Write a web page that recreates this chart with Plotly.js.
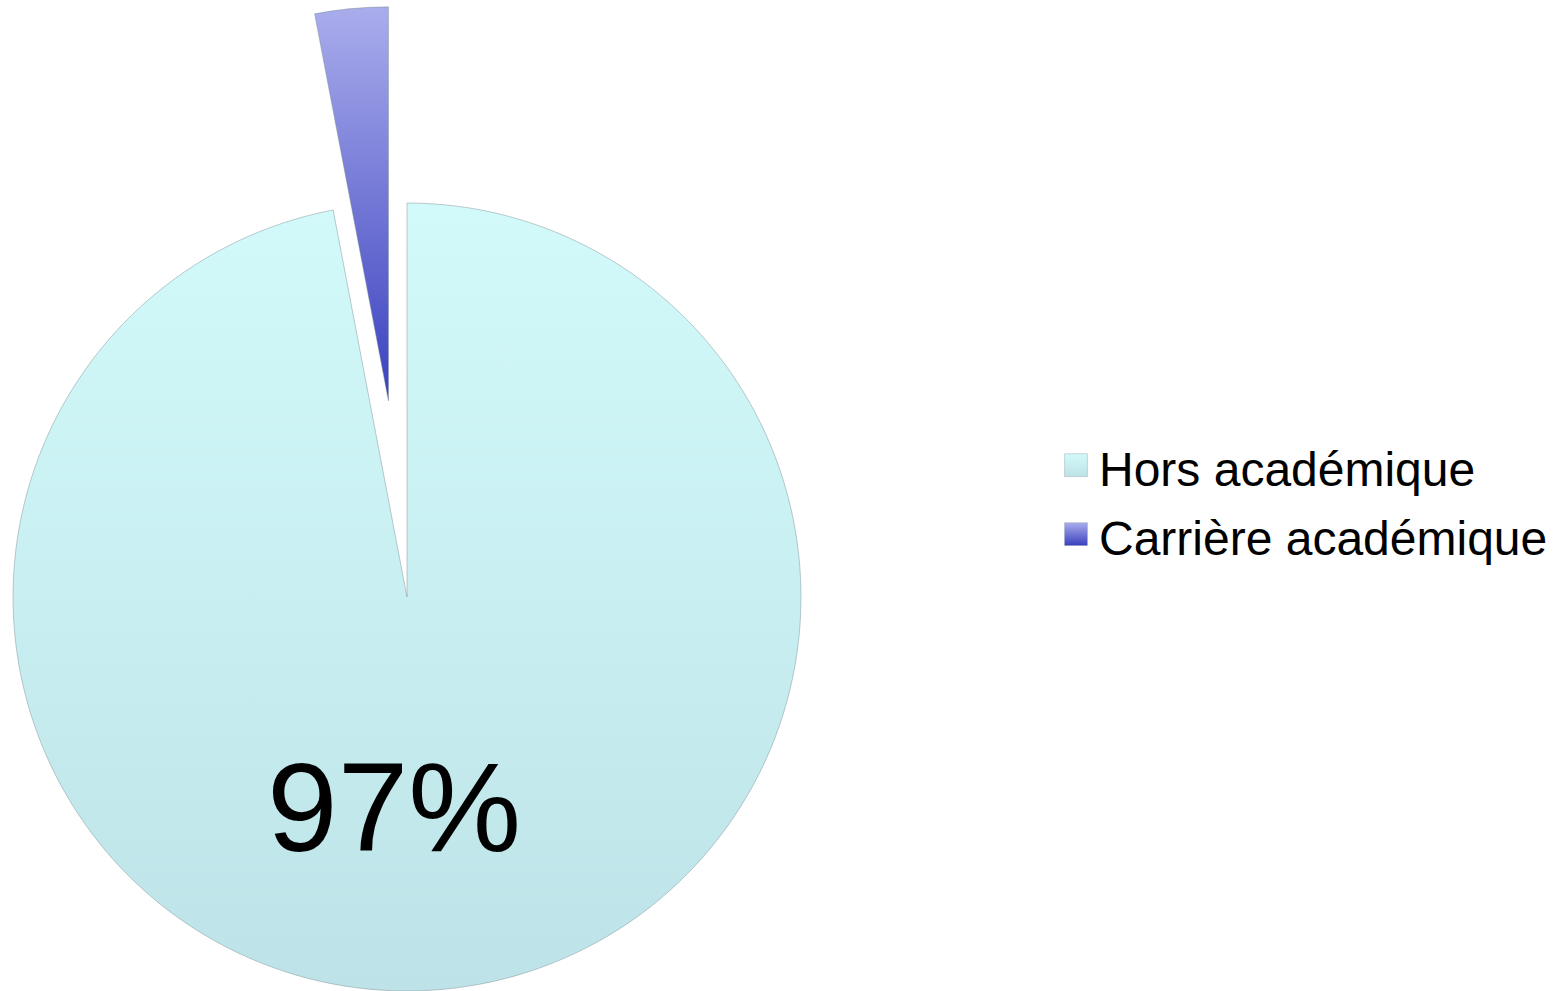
<!DOCTYPE html>
<html>
<head>
<meta charset="utf-8">
<script src="https://cdn.plot.ly/plotly-3.0.1.min.js"></script>
<style>
  html, body { margin: 0; padding: 0; background: #ffffff; }
  #wrap { position: relative; width: 1566px; height: 991px; overflow: hidden; background: #ffffff; }
  #chart { position: absolute; left: -184px; top: 6px; width: 1750px; height: 1182px; }
</style>
</head>
<body>
<div id="wrap"><div id="chart"></div></div>
<script>
// Data
const labels = ["Hors académique", "Carrière académique"];
const values = [97, 3];
const sliceColors = ["#c7eff1", "#7277d5"];
const gradTop = ["#d3fafa", "#aaadec"];
const gradBottom = ["#bde3e8", "#3a40bf"];
const sliceLabelsShown = [true, false];

const total = values.reduce((a, b) => a + b, 0);
const pctText = values.map(v => Math.round(v / total * 100) + "%");

const W = 1750, H = 1182;

const trace = {
  type: "pie",
  labels: labels,
  values: values,
  sort: false,
  direction: "clockwise",
  rotation: 0,
  pull: [0, 0.5],
  textinfo: "none",
  hoverinfo: "label+percent",
  marker: {
    colors: sliceColors,
    line: { color: "rgba(120,140,145,0.45)", width: 1 }
  },
  domain: { x: [0, 1182 / W], y: [0, 1] },
  showlegend: true
};

const annotations = [];
values.forEach((v, i) => {
  if (sliceLabelsShown[i]) {
    annotations.push({
      xref: "paper", yref: "paper",
      x: 578 / W, y: 1 - 801 / H,
      xanchor: "center", yanchor: "middle",
      text: pctText[i],
      showarrow: false,
      font: { family: "Arial, 'Liberation Sans', sans-serif", size: 127, color: "#000000" }
    });
  }
});

const layout = {
  width: W,
  height: H,
  margin: { l: 0, r: 0, t: 0, b: 0 },
  paper_bgcolor: "#ffffff",
  plot_bgcolor: "#ffffff",
  showlegend: true,
  legend: {
    x: (1065 + 184 - 6) / W,
    xanchor: "left",
    y: 1 - (500 - 6) / H,
    yanchor: "middle",
    font: { family: "Arial, 'Liberation Sans', sans-serif", size: 48, color: "#000000" },
    bgcolor: "rgba(0,0,0,0)",
    borderwidth: 0
  },
  annotations: annotations
};

function decorate(gd) {
  const NS = "http://www.w3.org/2000/svg";
  const svg = gd.querySelector("svg.main-svg");
  let defs = svg.querySelector("defs");
  if (!defs) { defs = document.createElementNS(NS, "defs"); svg.insertBefore(defs, svg.firstChild); }
  values.forEach((v, i) => {
    if (document.getElementById("slicegrad" + i)) return;
    const g = document.createElementNS(NS, "linearGradient");
    g.setAttribute("id", "slicegrad" + i);
    g.setAttribute("x1", "0"); g.setAttribute("y1", "0");
    g.setAttribute("x2", "0"); g.setAttribute("y2", "1");
    [[0, gradTop[i]], [1, gradBottom[i]]].forEach(([o, c]) => {
      const s = document.createElementNS(NS, "stop");
      s.setAttribute("offset", String(o));
      s.setAttribute("stop-color", c);
      g.appendChild(s);
    });
    defs.appendChild(g);
  });
  gd.querySelectorAll(".slice path.surface").forEach((p, i) => {
    p.style.fill = "url(#slicegrad" + i + ")";
  });
  gd.querySelectorAll(".legend .traces").forEach((t, i) => {
    const tr = t.getAttribute("transform") || "";
    t.setAttribute("transform", tr + " translate(0," + (i * 3.5) + ")");
    t.querySelectorAll(".legendpoints path").forEach(p => {
      const pt = p.getAttribute("transform") || "";
      p.setAttribute("transform", pt + " translate(-3,-2) scale(1.9)");
      p.style.strokeWidth = "0.4px";
      p.style.fill = "url(#slicegrad" + i + ")";
    });
  });
}

Plotly.newPlot("chart", [trace], layout, { displayModeBar: false, staticPlot: true }).then(decorate);
</script>
</body>
</html>
